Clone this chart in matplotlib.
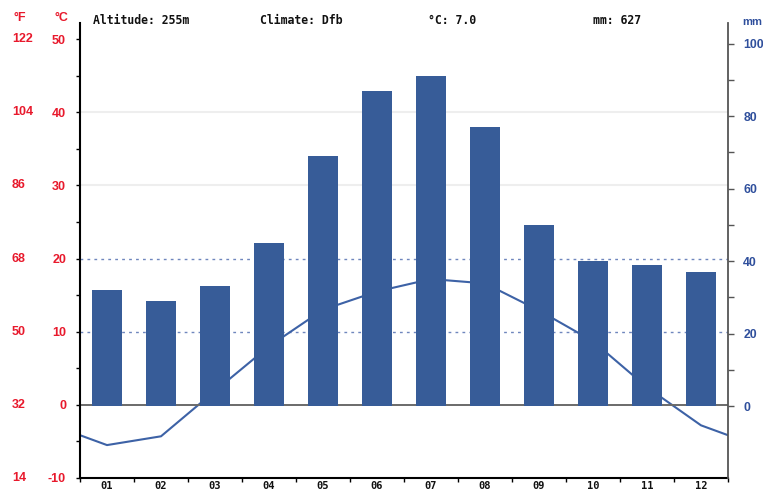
import numpy as np
import matplotlib
matplotlib.use("Agg")
import matplotlib.pyplot as plt
from matplotlib.transforms import blended_transform_factory

# climate data
months = ["01", "02", "03", "04", "05", "06", "07", "08", "09", "10", "11", "12"]
temp_c = [-5.5, -4.3, 1.9, 8.0, 13.0, 15.5, 17.2, 16.6, 12.9, 8.7, 2.4, -2.8]
precip_mm = [32, 29, 33, 45, 69, 87, 91, 77, 50, 40, 39, 37]
header = ["Altitude: 255m", "Climate: Dfb", "°C: 7.0", "mm: 627"]
header_x = [93, 260, 428, 593]
c_ticks = [-10, 0, 10, 20, 30, 40, 50]
mm_ticks = [0, 20, 40, 60, 80, 100]

RED = "#e8192c"
BLUE = "#2f4f9c"
BAR = "#375c98"
LINE = "#3d62a6"
W, H = 763, 492

fig = plt.figure(figsize=(W / 100, H / 100), dpi=100)
ax = fig.add_axes([80 / W, 1 - 478 / H, 648 / W, 455 / H])
ax2 = ax.twinx()

ax.set_xlim(0, 12)
ax.set_ylim(-10, 52.2)
ax2.set_ylim(-19.86, 105.66)

x = np.arange(12) + 0.5

# bars on the precipitation axis
ax2.bar(x, precip_mm, width=0.55, color=BAR, zorder=3)

# temperature line, wrapped to the plot edges (midpoint Dec/Jan)
edge = (temp_c[0] + temp_c[-1]) / 2
tx = np.concatenate([[0], x, [12]])
ty = np.concatenate([[edge], temp_c, [edge]])
ax.plot(tx, ty, color=LINE, lw=1.5, zorder=1)

# grid lines
for g in [30, 40]:
    ax.axhline(g, color="#eeeeee", lw=1.5, zorder=0)
for g in [10, 20]:
    ax.axhline(g, color="#6f86bd", lw=1.0, ls=(0, (2, 3)), zorder=0)
ax.axhline(0, color="#6a6a6a", lw=1.4, zorder=2)

# line behind bars
ax.set_zorder(0)
ax2.set_zorder(1)
ax2.patch.set_visible(False)

# spines
ax.spines["top"].set_visible(False)
ax2.spines["top"].set_visible(False)
ax.spines["right"].set_visible(False)
ax2.spines["left"].set_visible(False)
ax2.spines["bottom"].set_visible(False)
ax.spines["left"].set_linewidth(1.5)
ax.spines["bottom"].set_linewidth(1.5)
ax2.spines["right"].set_linewidth(1.3)
ax2.spines["right"].set_color("#555555")

# x axis
ax.set_xticks(x)
ax.set_xticklabels(months, fontfamily="DejaVu Sans Mono", fontweight="bold",
                   fontsize=7.5, color="#111111")
ax.set_xticks(np.arange(13), minor=True)
ax.tick_params(axis="x", which="major", length=0, pad=2)
ax.tick_params(axis="x", which="minor", length=3, width=1, direction="out")

# left axis (°C)
ax.set_yticks(c_ticks)
ax.set_yticklabels([str(t) for t in c_ticks], color=RED, fontweight="bold",
                   fontfamily="Liberation Sans", fontsize=9)
ax.set_yticks(np.arange(-10, 51, 5), minor=True)
ax.tick_params(axis="y", which="both", length=3, width=1, pad=7)

# °F labels
trans = blended_transform_factory(fig.transFigure, ax.transData)
for c in c_ticks:
    f = round(c * 9 / 5 + 32)
    ax.text(12 / W, c, str(f), transform=trans, ha="left", va="center",
            color=RED, fontweight="bold", fontfamily="Liberation Sans",
            fontsize=9)

# right axis (mm)
ax2.set_yticks(mm_ticks)
ax2.set_yticklabels([str(t) for t in mm_ticks], color=BLUE, fontweight="bold",
                    fontfamily="Liberation Sans", fontsize=8.8)
ax2.set_yticks(np.arange(0, 101, 10), minor=True)
ax2.tick_params(axis="y", which="both", length=4, width=1, pad=7,
                color="#555555")

# headers
fig.text(13 / W, 1 - 18 / H, "°F", color=RED, fontweight="bold",
         fontfamily="Liberation Sans", fontsize=9, ha="left", va="center")
fig.text(68 / W, 1 - 18 / H, "°C", color=RED, fontweight="bold",
         fontfamily="Liberation Sans", fontsize=9, ha="right", va="center")
fig.text(742 / W, 1 - 22 / H, "mm", color=BLUE, fontweight="bold",
         fontfamily="Liberation Sans", fontsize=8, ha="left", va="center")
for txt, hx in zip(header, header_x):
    fig.text(hx / W, 1 - 20 / H, txt, fontfamily="DejaVu Sans Mono",
             fontweight="bold", fontsize=8.3, color="#111111",
             ha="left", va="center")

fig.savefig("out.png", dpi=100)
